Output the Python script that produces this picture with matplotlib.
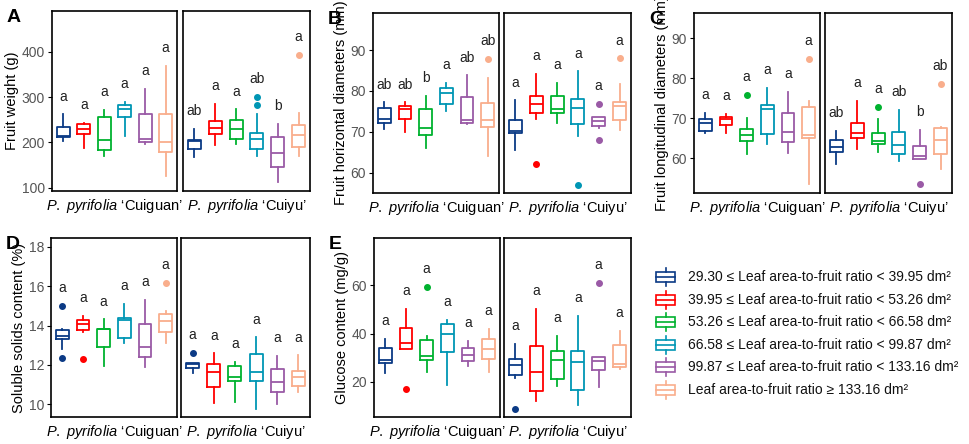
import matplotlib
matplotlib.use("Agg")
import matplotlib.pyplot as plt

plt.rcParams["font.family"] = ["Liberation Sans", "DejaVu Sans"]
plt.rcParams["mathtext.fontset"] = "custom"
plt.rcParams["mathtext.it"] = "Liberation Sans:italic"
plt.rcParams["mathtext.rm"] = "Liberation Sans"

colors = ["#0b3a85", "#ff0000", "#00b22f", "#0096b4", "#9a5aa6", "#f9ae8c"]
legend_labels = [
    "29.30 ≤ Leaf area-to-fruit ratio < 39.95 dm²",
    "39.95 ≤ Leaf area-to-fruit ratio < 53.26 dm²",
    "53.26 ≤ Leaf area-to-fruit ratio < 66.58 dm²",
    "66.58 ≤ Leaf area-to-fruit ratio < 99.87 dm²",
    "99.87 ≤ Leaf area-to-fruit ratio < 133.16 dm²",
    "Leaf area-to-fruit ratio ≥ 133.16 dm²",
]
cultivars = ["Cuiguan", "Cuiyu"]

# box stats per group: (whislo, q1, med, q3, whishi, fliers)
weight_cuiguan = [(203, 212.5, 214, 234.6, 261.8, []), (187.5, 219, 230, 241, 243, []),
                  (170, 183, 206, 256.6, 271, []), (215, 256.6, 273, 283, 290, []),
                  (197, 200.7, 208, 263, 318, []), (125.7, 179.4, 200.7, 263, 369, [])]
weight_cuiyu = [(168.4, 186, 203.7, 206, 230, []), (194, 219, 233, 247.8, 285, []),
                (197, 208, 228.7, 250, 272.8, []), (170, 186, 206.6, 221, 261.8, [300, 282]),
                (112.5, 146, 177, 212.5, 241, []), (170, 190, 217.6, 237.5, 264, [392.6])]
weight_letters = [["a"] * 6, ["ab", "a", "a", "ab", "b", "a"]]

hd_cuiguan = [(70.6, 72.2, 73.1, 75.9, 77.2, []), (70.0, 73.2, 75.7, 76.4, 77.2, []),
              (66.1, 69.3, 71.0, 75.5, 78.7, []), (75.1, 76.9, 79.6, 80.8, 82.0, []),
              (71.9, 72.2, 73.0, 78.4, 83.8, []), (64.1, 71.2, 73.0, 77.1, 83.1, [87.8])]
hd_cuiyu = [(65.6, 69.8, 70.3, 73.0, 77.7, []), (73.2, 74.5, 76.7, 78.8, 84.1, [62.0]),
            (72.2, 74.5, 75.7, 78.8, 81.9, []), (69.0, 72.0, 75.9, 78.1, 84.8, [57.0]),
            (71.0, 71.5, 72.6, 73.5, 73.7, [76.8, 67.9]), (70.5, 72.8, 76.3, 77.4, 81.7, [88.0])]
hd_letters = [["ab", "ab", "b", "a", "ab", "ab"], ["a"] * 6]

ld_cuiguan = [(66.4, 66.8, 68.9, 69.7, 71.4, []), (66.2, 68.2, 69.9, 70.2, 71.0, []),
              (61.0, 64.2, 65.8, 67.4, 70.0, [75.8]), (63.5, 66.0, 72.2, 73.4, 77.5, []),
              (61.4, 64.0, 66.5, 71.4, 76.5, []), (53.5, 65.1, 65.7, 72.9, 74.3, [84.9])]
ld_cuiyu = [(58.5, 61.5, 62.7, 64.6, 66.8, []), (62.4, 65.1, 66.2, 68.7, 74.3, []),
            (61.5, 63.6, 64.2, 66.4, 69.8, [72.8]), (59.2, 61.0, 63.2, 66.6, 72.1, []),
            (59.7, 59.7, 60.6, 63.1, 67.0, [53.5]), (57.3, 61.0, 64.5, 67.5, 67.9, [78.5])]
ld_letters = [["a"] * 6, ["ab", "a", "a", "ab", "b", "ab"]]

ssc_cuiguan = [(12.8, 13.3, 13.48, 13.75, 13.8, [15.0, 12.33]), (13.69, 13.75, 14.06, 14.26, 14.5, [12.3]),
               (11.96, 12.91, 13.82, 13.84, 14.31, []), (13.13, 13.35, 14.28, 14.36, 15.1, []),
               (11.88, 12.4, 12.9, 14.1, 15.3, []), (13.1, 13.69, 14.23, 14.6, 14.74, [16.18])]
ssc_cuiyu = [(11.57, 11.84, 12.06, 12.08, 12.08, [12.6]), (10.05, 10.86, 11.62, 12.03, 12.59, []),
             (10.1, 11.17, 11.37, 11.96, 12.17, []), (9.75, 11.17, 11.62, 12.54, 13.4, []),
             (10.02, 10.61, 11.12, 11.81, 12.45, []), (10.61, 10.91, 11.39, 11.67, 12.49, [])]
ssc_letters = [["a"] * 6, ["a"] * 6]

glu_cuiguan = [(23.9, 27.9, 29.0, 34.1, 37.9, []), (33.7, 33.7, 36.1, 42.3, 50.2, [17.1]),
               (24.0, 29.1, 30.8, 37.4, 39.2, [59.4]), (18.6, 32.3, 39.7, 44.0, 45.8, []),
               (26.5, 28.6, 31.2, 34.1, 37.1, []), (24.3, 29.4, 33.7, 37.8, 42.1, [])]
glu_cuiyu = [(21.7, 22.9, 27.2, 29.4, 35.7, [8.7]), (12.3, 16.3, 24.1, 34.9, 50.2, []),
             (18.3, 21.1, 29.1, 32.8, 39.0, []), (10.3, 16.6, 28.1, 32.7, 47.4, []),
             (17.9, 24.8, 28.7, 30.3, 30.3, [61.0]), (25.4, 26.2, 27.4, 35.2, 41.2, [])]
glu_letters = [["a"] * 6, ["a"] * 6]

W, H = 969, 444
fig = plt.figure(figsize=(W / 100, H / 100), dpi=100)


def px_axes(x0, y0, x1, y1):
    return fig.add_axes([x0 / W, 1 - y1 / H, (x1 - x0) / W, (y1 - y0) / H])


def draw_panel(letter, ylabel, data, letters, ylim, yticks, lx, rx, y0, y1):
    axes = [px_axes(lx[0], y0, lx[1], y1), px_axes(rx[0], y0, rx[1], y1)]
    span = ylim[1] - ylim[0]
    for k, ax in enumerate(axes):
        stats = []
        for s in data[k]:
            stats.append(dict(whislo=s[0], q1=s[1], med=s[2], q3=s[3], whishi=s[4], fliers=s[5]))
        bp = ax.bxp(stats, positions=range(1, 7), widths=0.62, showcaps=False,
                    patch_artist=False, manage_ticks=False)
        for i, c in enumerate(colors):
            bp["boxes"][i].set(color=c, linewidth=1.3)
            bp["medians"][i].set(color=c, linewidth=1.3)
            bp["whiskers"][2 * i].set(color=c, linewidth=1.3)
            bp["whiskers"][2 * i + 1].set(color=c, linewidth=1.3)
            bp["fliers"][i].set(marker="o", markerfacecolor=c, markeredgecolor=c, markersize=4)
            top = max([data[k][i][4]] + data[k][i][5])
            ax.text(i + 1, top + 0.06 * span, letters[k][i], ha="center", va="bottom",
                    fontsize=10, color="#222222")
        ax.set_xlim(0.45, 6.55)
        ax.set_ylim(*ylim)
        ax.set_xticks([])
        for sp in ax.spines.values():
            sp.set_linewidth(1.2)
        ax.set_xlabel(r"$\mathit{P.\ pyrifolia}$ ‘" + cultivars[k] + "’", fontsize=10.5, labelpad=4)
        if k == 0:
            ax.set_yticks(yticks)
            ax.tick_params(axis="y", labelsize=10, labelcolor="#555555", length=3, pad=2)
            ax.set_ylabel(ylabel, fontsize=10.5, labelpad=2)
        else:
            ax.set_yticks([])
    fig.text((lx[0] - 45) / W, 1 - (y0 + 6) / H, letter, fontsize=14, fontweight="bold",
             ha="left", va="center")


draw_panel("A", "Fruit weight (g)", [weight_cuiguan, weight_cuiyu], weight_letters,
           (93, 490), [100, 200, 300, 400], (52, 177), (183, 310), 11, 191)
draw_panel("B", "Fruit horizontal diameters (mm)", [hd_cuiguan, hd_cuiyu], hd_letters,
           (55, 99.1), [60, 70, 80, 90], (373, 499), (504, 631), 13, 193)
draw_panel("C", "Fruit longitudinal diameters (mm)", [ld_cuiguan, ld_cuiyu], ld_letters,
           (51.3, 96.3), [60, 70, 80, 90], (694, 820), (825, 952), 13, 193)
draw_panel("D", "Soluble solids content (%)", [ssc_cuiguan, ssc_cuiyu], ssc_letters,
           (9.36, 18.44), [10, 12, 14, 16, 18], (51, 177), (181, 310), 238, 417)
draw_panel("E", "Glucose content (mg/g)", [glu_cuiguan, glu_cuiyu], glu_letters,
           (5.5, 79.6), [20, 40, 60], (374, 500), (504, 631), 238, 417)

# legend drawn by hand: horizontal box glyphs
lax = px_axes(650, 262, 969, 402)
lax.set_xlim(650, 969)
lax.set_ylim(402, 262)
lax.axis("off")
for i, (c, lab) in enumerate(zip(colors, legend_labels)):
    yc = 277 + i * 22.6
    lax.add_patch(plt.Rectangle((656, yc - 5), 19, 10, fill=False, edgecolor=c, linewidth=1.2))
    lax.plot([656, 675], [yc, yc], color=c, linewidth=1.2)
    lax.plot([665.5, 665.5], [yc - 9, yc - 5], color=c, linewidth=1.2)
    lax.plot([665.5, 665.5], [yc + 5, yc + 9], color=c, linewidth=1.2)
    lax.text(688, yc, lab, fontsize=10, va="center", ha="left", color="#111111")

fig.savefig("out.png", dpi=100)
